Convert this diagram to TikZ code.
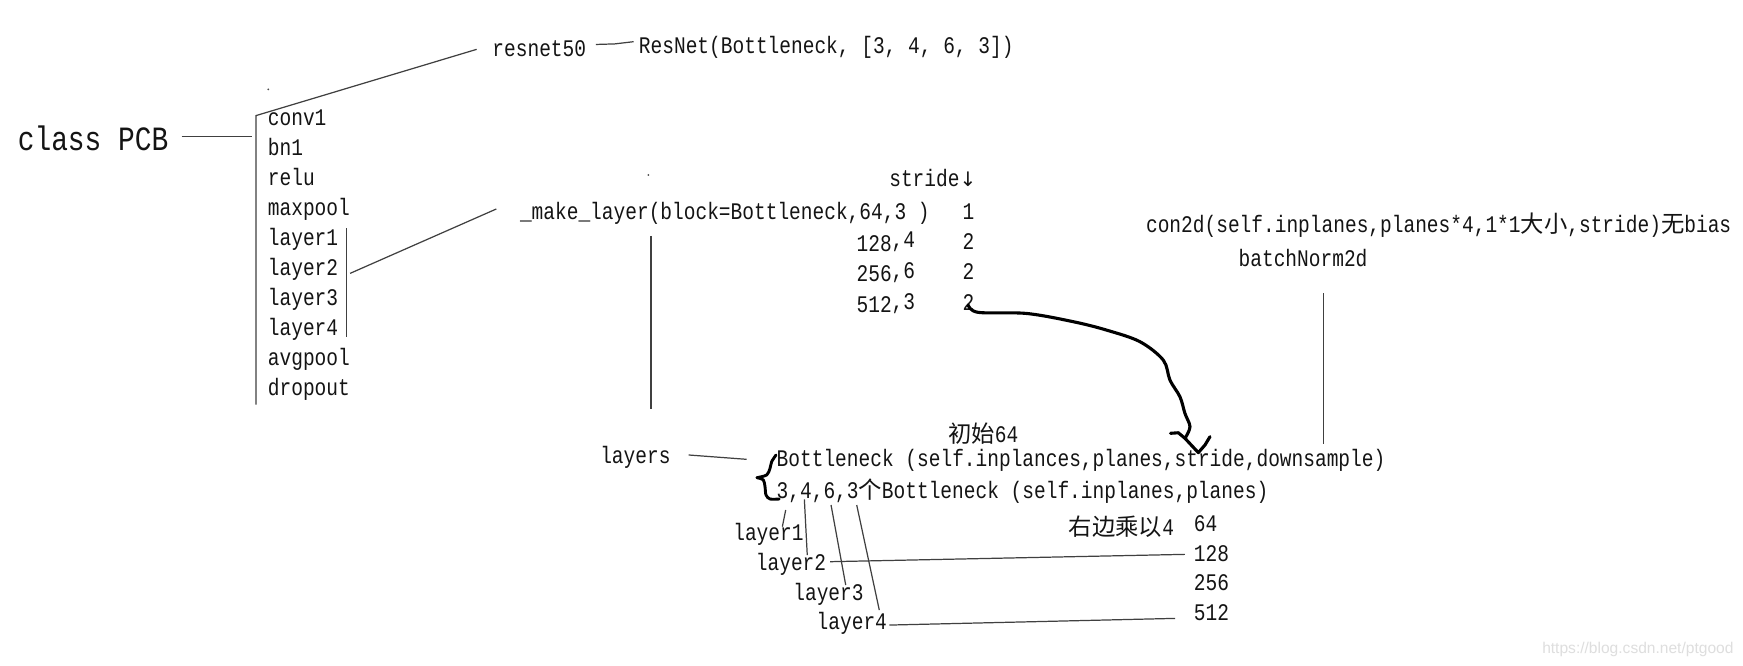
\documentclass[tikz,border=0pt]{standalone}
\usepackage{fontspec}
\newfontfamily\monofam[FakeStretch=0.82]{Liberation Mono}
\newfontfamily\cjkfam{Noto Sans CJK SC}
\newfontfamily\wmfam{Liberation Sans}
\newfontfamily\symfam{DejaVu Sans}
\newcommand\zhtxt[1]{{\cjkfam\fontsize{10.5}{12}\selectfont #1}}
\begin{document}
\begin{tikzpicture}[x=0.5pt,y=-0.5pt,
  txt/.style={anchor=base west,inner sep=0pt,outer sep=0pt,text=black!92,
    font=\monofam\fontsize{10.7}{12}\selectfont},
  bigtxt/.style={txt,font=\monofam\fontsize{15.3}{18}\selectfont},
  ln/.style={draw=black!75,line width=0.55pt},
  hand/.style={draw=black,line width=1.4pt,line join=round,line cap=round}]
\fill[white] (0,0) rectangle (1568,599);
\useasboundingbox (0,0) rectangle (1568,599);

% ---- left column
\node[bigtxt] (pcb) at (16,135.5) {class PCB};
\foreach \t/\n [count=\i from 0] in {conv1/conv,bn1/bn,relu/relu,maxpool/maxpool,layer1/la,layer2/lb,layer3/lc,layer4/ld,avgpool/avg,dropout/drop}
  \node[txt] (\n) at (241,113+27*\i) {\t};

\coordinate (pcbA) at (163.4,122.6);
\coordinate (pcbB) at (226.4,122.6);
\draw[ln] (pcbA) -- (pcbB);
\coordinate (brTop) at (230.3,104);
\coordinate (brBot) at (230.3,364);
\coordinate (resA) at (428.8,44.4);
\draw[ln] (resA) -- (brTop) -- (brBot);
\coordinate (lbTop) at (311.6,205.4);
\coordinate (lbBot) at (311.6,302.9);
\draw[ln] (lbTop) -- (lbBot);
\coordinate (lbA) at (315,245.9);
\coordinate (mkA) at (446.5,188);
\draw[ln] (lbA) -- (mkA);
\fill[black!70] (241.4,80.4) circle (0.9);
\fill[black!70] (583.2,157.4) circle (0.9);

% ---- top
\node[txt] (res50) at (443,51) {resnet50};
\coordinate (dA) at (536,40);
\coordinate (dB) at (553,39.5);
\coordinate (dC) at (570,37.5);
\draw[ln] (dA) -- (dB) -- (dC);
\node[txt] (resnet) at (574.8,48) {ResNet(Bottleneck, [3, 4, 6, 3])};

% ---- make_layer block
\node[txt] (stride) at (800,168) {stride{\symfam\fontsize{9}{10}\selectfont ↓}};
\node[txt] (mk) at (467.8,197.3) {\_make\_layer(block=Bottleneck,64,3 )};
\node[txt] (s1) at (866,197.3) {1};
\node[txt] (r2) at (770.6,226) {128\raisebox{1.5pt}{,4}};
\node[txt] (s2) at (866,224) {2};
\node[txt] (r3) at (770.6,253.5) {256\raisebox{1.5pt}{,6}};
\node[txt] (s3) at (866,251.5) {2};
\node[txt] (r4) at (770.6,281) {512\raisebox{1.5pt}{,3}};
\node[txt] (s4) at (866,279) {2};
\coordinate (mkV1) at (585.6,212.3);
\coordinate (mkV2) at (585.6,368);
\draw[ln] (mkV1) -- (mkV2);

% ---- conv / bn
\node[txt] (con) at (1031,209) {con2d(self.inplanes,planes*4,1*1\zhtxt{大小},stride)\zhtxt{无}bias};
\node[txt] (bn2d) at (1114.3,240) {batchNorm2d};
\coordinate (bnV1) at (1190.6,264);
\coordinate (bnV2) at (1190.6,399);
\draw[ln] (bnV1) -- (bnV2);

% ---- hand drawn arrow
\draw[hand] plot[smooth,tension=0.55] coordinates {(871,274.4) (880,281) (923.6,282) (965.5,289.4) (995.6,297) (1025.5,307.4) (1046.5,324) (1052.5,342) (1061.5,357) (1066,372) (1070.5,384) (1066,394.3)};
\draw[hand] (1053,389.8) -- (1060,389.3) -- (1066,394.3) -- (1078,407.2) -- (1084,400.3) -- (1088.5,392.8);

% ---- bottom block
\node[txt] (init) at (853,398) {\zhtxt{初始}64};
\node[txt] (layers) at (540,416.8) {layers};
\coordinate (lyA) at (619.5,409.3);
\coordinate (lyB) at (671.6,413.2);
\draw[ln] (lyA) -- (lyB);
\draw[hand,line width=1.3pt] plot[smooth,tension=0.5] coordinates {(698.1,409.3) (694.2,415.3) (692.7,421.3) (689.7,427.3) (681,429.7)};
\draw[hand,line width=1.3pt] plot[smooth,tension=0.5] coordinates {(681,429.7) (686.7,431.8) (688.2,437.8) (689.1,445.3) (692.7,448.9) (701,448.9)};
\node[txt] (bt1) at (698.7,420) {Bottleneck (self.inplances,planes,stride,downsample)};
\node[txt] (bt2) at (698.7,448.3) {3,4,6,3\zhtxt{个}Bottleneck (self.inplanes,planes)};
\node[txt] (mul) at (961.6,481.3) {\zhtxt{右边乘以}4};
\node[txt] (n64) at (1074,478.3) {64};
\node[txt] (n128) at (1074,505.3) {128};
\node[txt] (n256) at (1074,531.4) {256};
\node[txt] (n512) at (1074,558.4) {512};
\node[txt] (L1) at (659.7,485.8) {layer1};
\node[txt] (L2) at (680,512.8) {layer2};
\node[txt] (L3) at (713.7,539.8) {layer3};
\node[txt] (L4) at (734.7,566.7) {layer4};
\coordinate (c1a) at (706.8,458.8); \coordinate (c1b) at (703.8,473.8);
\coordinate (c2a) at (723.6,449.2); \coordinate (c2b) at (726.2,499.3);
\coordinate (c3a) at (747.6,454.3); \coordinate (c3b) at (760.8,526.3);
\coordinate (c4a) at (770.7,454.3); \coordinate (c4b) at (791,548.8);
\draw[ln] (c1a) -- (c1b);
\draw[ln] (c2a) -- (c2b);
\draw[ln] (c3a) -- (c3b);
\draw[ln] (c4a) -- (c4b);
\coordinate (l2a) at (746.7,505.3); \coordinate (l2b) at (1066,498.7);
\coordinate (l4a) at (800.1,562.3); \coordinate (l4b) at (1057.1,556.3);
\draw[ln] (l2a) -- (l2b);
\draw[ln] (l4a) -- (l4b);

% ---- watermark
\node[anchor=base west,inner sep=0pt,text=black!13,font=\wmfam\fontsize{7}{8}\selectfont] (wm) at (1387,587.7) {https://blog.csdn.net/ptgood};
\end{tikzpicture}
\end{document}
